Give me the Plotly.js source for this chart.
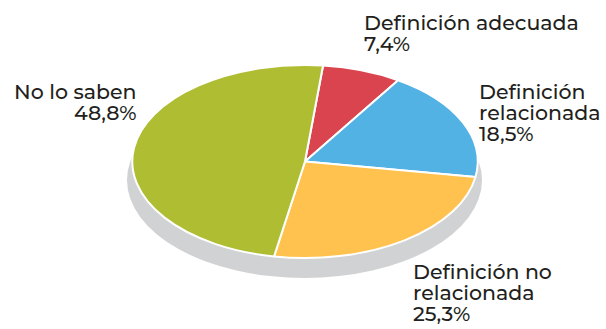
<!DOCTYPE html>
<html>
<head>
<meta charset="utf-8">
<script src="https://cdn.plot.ly/plotly-3.0.1.min.js"></script>
<style>
  html, body { margin: 0; padding: 0; background: #ffffff; }
  #chart { width: 606px; height: 329px; }
</style>
</head>
<body>
<div id="chart"></div>
<script>
// ---- data ----
const categories = ['Definición adecuada', 'Definición relacionada', 'Definición no relacionada', 'No lo saben'];
const values = [7.4, 18.5, 25.3, 48.8];
const labelLines = [
  ['Definición adecuada'],
  ['Definición', 'relacionada'],
  ['Definición no', 'relacionada'],
  ['No lo saben']
];

// ---- style ----
const colors = ['#d9444f', '#53b2e4', '#ffc24f', '#aebd31'];
const W = 606, H = 329;
const CX = 305, CY = 161.5, RX = 172.7, RY = 96.5;
const px = x => x / W;
const py = y => 1 - y / H;

const FONT = { family: 'Montserrat, "Open Sans", sans-serif', size: 20.5, color: '#231f20', weight: 500 };
const LINE = 21;
// label anchor: x, first baseline, align
const labelPos = [
  { x: 362, b: 29, align: 'left' },
  { x: 477, b: 98, align: 'left' },
  { x: 411, b: 278, align: 'left' },
  { x: 138, b: 98, align: 'right' }
];

const fmt = v => v.toFixed(1).replace('.', ',') + '%';

const annotations = categories.map((c, i) => {
  const lines = labelLines[i].concat([fmt(values[i])]);
  const p = labelPos[i];
  return {
    text: lines.join('<br>'), showarrow: false,
    xref: 'paper', yref: 'paper',
    x: px(p.x), y: py(p.b - 21),
    xanchor: p.align, yanchor: 'top', align: p.align,
    font: FONT
  };
});

const trace = {
  type: 'pie',
  labels: categories,
  values: values,
  sort: false,
  direction: 'clockwise',
  rotation: 6,
  textinfo: 'none',
  hoverinfo: 'none',
  marker: { colors: colors, line: { color: '#ffffff', width: 2 } },
  domain: { x: [px(CX - RY), px(CX + RY)], y: [py(CY + RY), py(CY - RY)] },
  showlegend: false
};

const layout = {
  width: W, height: H,
  margin: { l: 0, r: 0, t: 0, b: 0 },
  paper_bgcolor: '#ffffff',
  showlegend: false,
  annotations: annotations,
  shapes: [{
    type: 'circle', layer: 'below',
    xref: 'paper', yref: 'paper',
    x0: px(127), x1: px(482), y0: py(278), y1: py(82),
    fillcolor: '#d1d2d4', line: { width: 0 }
  }]
};

Plotly.newPlot('chart', [trace], layout, { displayModeBar: false, staticPlot: true }).then(gd => {
  // flatten the pie into the reference's ellipse
  const sx = RX / RY;
  const pl = gd.querySelector('.pielayer');
  if (pl) {
    pl.setAttribute('transform', `translate(${CX},0) scale(${sx},1) translate(${-CX},0)`);
    pl.querySelectorAll('path').forEach(p => p.setAttribute('vector-effect', 'non-scaling-stroke'));
  }
  // tighten the label line spacing to match the reference
  gd.querySelectorAll('.annotation-text').forEach(t => {
    const ls = t.querySelectorAll('tspan.line');
    if (ls.length < 2) return;
    const y0 = ls[0].getStartPositionOfChar(0).y;
    ls.forEach((s, k) => {
      if (k === 0) return;
      s.removeAttribute('dy');
      s.setAttribute('y', y0 + k * LINE);
    });
  });
});
</script>
</body>
</html>
